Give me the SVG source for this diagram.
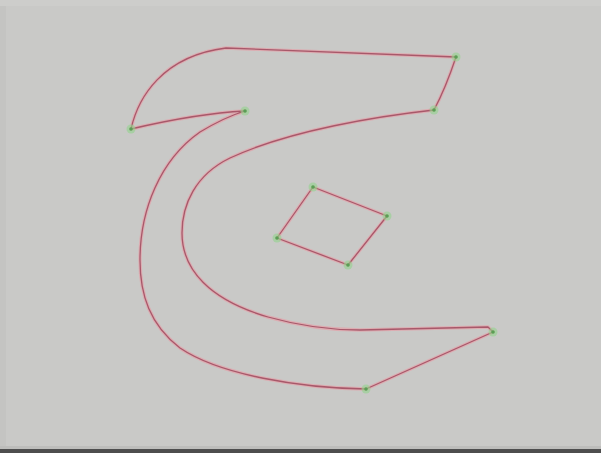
<svg xmlns="http://www.w3.org/2000/svg" width="601" height="453" viewBox="0 0 601 453">
<style>
.halo{fill:none;stroke:#e3a2aa;stroke-width:3.4;stroke-linejoin:round;opacity:0.75}
.core{fill:none;stroke:#a8586a;stroke-width:1.3;stroke-linejoin:round}
.dh{fill:#92d48c;opacity:0.6}
.dc{fill:#5a9e55}
</style>
<defs>
<path id="outer" d="M131,129 C138,98 162,56 226,48 L456,57 C450,75 442,95 434,110 C380,116 290,130 230,158 C195,175 182,205 182,233 C182,270 210,300 268,317 C300,326 330,330 360,330 L488,327 L493,332 L366,389 C300,388 220,375 180,348 C150,325 140,295 140,260 C140,210 160,160 200,132 C220,120 235,114 245,111 C205,113 165,121 131,129 Z"/>
<path id="sq" d="M313,187 L387,216 L348,265 L277,238 Z"/>
</defs>
<rect x="0" y="0" width="601" height="453" fill="#c9c9c7"/>
<rect x="0" y="0" width="6" height="449" fill="#c4c4c2"/>
<rect x="0" y="0" width="601" height="6" fill="#cdcdcb"/>
<rect x="0" y="446" width="601" height="3" fill="#bdbdbb"/>
<rect x="0" y="449" width="601" height="4" fill="#4e4e4e"/>
<g id="outline">
<use href="#outer" class="halo"/>
<use href="#outer" class="core"/>
</g>
<g id="counter">
<use href="#sq" class="halo"/>
<use href="#sq" class="core"/>
</g>
<g id="points">
<g id="p1"><circle cx="131" cy="129" r="4.5" class="dh"/><circle cx="131" cy="129" r="1.8" class="dc"/></g>
<g id="p2"><circle cx="245" cy="111" r="4.5" class="dh"/><circle cx="245" cy="111" r="1.8" class="dc"/></g>
<g id="p3"><circle cx="456" cy="57" r="4.5" class="dh"/><circle cx="456" cy="57" r="1.8" class="dc"/></g>
<g id="p4"><circle cx="434" cy="110" r="4.5" class="dh"/><circle cx="434" cy="110" r="1.8" class="dc"/></g>
<g id="p5"><circle cx="493" cy="332" r="4.5" class="dh"/><circle cx="493" cy="332" r="1.8" class="dc"/></g>
<g id="p6"><circle cx="366" cy="389" r="4.5" class="dh"/><circle cx="366" cy="389" r="1.8" class="dc"/></g>
<g id="p7"><circle cx="313" cy="187" r="4.5" class="dh"/><circle cx="313" cy="187" r="1.8" class="dc"/></g>
<g id="p8"><circle cx="387" cy="216" r="4.5" class="dh"/><circle cx="387" cy="216" r="1.8" class="dc"/></g>
<g id="p9"><circle cx="348" cy="265" r="4.5" class="dh"/><circle cx="348" cy="265" r="1.8" class="dc"/></g>
<g id="p10"><circle cx="277" cy="238" r="4.5" class="dh"/><circle cx="277" cy="238" r="1.8" class="dc"/></g>
</g>
</svg>
